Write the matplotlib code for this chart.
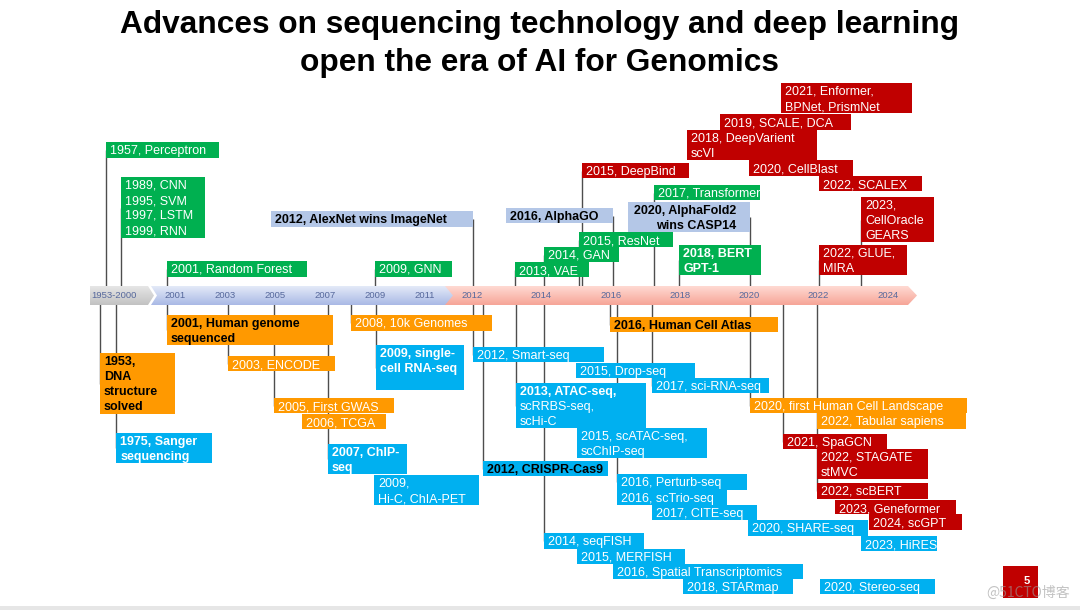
"""
Timeline: advances on sequencing technology and deep learning
=============================================================

Every event is a coloured box: AI / deep learning above the time axis,
sequencing / genomics below it. A thin leader line joins a box to its
year on the chevron axis.

Run:   python plot.py   ->  writes out.png (1080 x 610 px)
"""

import numpy as np
import matplotlib.pyplot as plt
from matplotlib.patches import Polygon, Rectangle
from matplotlib.colors import LinearSegmentedColormap

plt.rcParams["font.family"] = ["Liberation Sans", "DejaVu Sans"]


# ----------------------------------------------------------------------
# 1. THE DATA
# ----------------------------------------------------------------------
title_lines = ["Advances on sequencing technology and deep learning",
               "open the era of AI for Genomics"]

era_label = "1953-2000"
tick_years = [2001, 2003, 2005, 2007, 2009, 2011,
              2012, 2014, 2016, 2018, 2020, 2022, 2024]
tick_labels = [str(y) for y in tick_years]

years = [
    1957, 1989, 2001, 2009, 2012, 2016, 2020, 2013, 2014, 2015, 2017, 2018,
    2015, 2021, 2019, 2018, 2020, 2022, 2023, 2022,
    1953, 1975, 2001, 2003, 2005, 2006, 2007, 2008, 2009, 2009,
    2012, 2012, 2013, 2015, 2017, 2015, 2016, 2016, 2016, 2017, 2020, 2023,
    2014, 2015, 2016, 2018, 2020, 2020, 2022, 2021, 2022, 2022, 2023, 2024,
]

labels = [
    "1957, Perceptron", "1989, CNN\n1995, SVM\n1997, LSTM\n1999, RNN",
    "2001, Random Forest", "2009, GNN", "2012, AlexNet wins ImageNet",
    "2016, AlphaGO", "2020, AlphaFold2\nwins CASP14", "2013, VAE", "2014, GAN",
    "2015, ResNet", "2017, Transformer", "2018, BERT\nGPT-1",
    "2015, DeepBind", "2021, Enformer,\nBPNet, PrismNet", "2019, SCALE, DCA",
    "2018, DeepVarient\nscVI", "2020, CellBlast", "2022, SCALEX",
    "2023,\nCellOracle\nGEARS", "2022, GLUE,\nMIRA",
    "1953,\nDNA\nstructure\nsolved", "1975, Sanger\nsequencing",
    "2001, Human genome\nsequenced", "2003, ENCODE", "2005, First GWAS",
    "2006, TCGA", "2007, ChIP-\nseq", "2008, 10k Genomes",
    "2009, single-\ncell RNA-seq", "2009,\nHi-C, ChIA-PET",
    "2012, Smart-seq", "2012, CRISPR-Cas9",
    "2013, ATAC-seq,\nscRRBS-seq,\nscHi-C", "2015, Drop-seq",
    "2017, sci-RNA-seq", "2015, scATAC-seq,\nscChIP-seq",
    "2016, Human Cell Atlas", "2016, Perturb-seq", "2016, scTrio-seq",
    "2017, CITE-seq", "2020, SHARE-seq", "2023, HiRES",
    "2014, seqFISH", "2015, MERFISH", "2016, Spatial Transcriptomics",
    "2018, STARmap", "2020, Stereo-seq", "2020, first Human Cell Landscape",
    "2022, Tabular sapiens", "2021, SpaGCN", "2022, STAGATE\nstMVC",
    "2022, scBERT", "2023, Geneformer", "2024, scGPT",
]

# ml = machine learning, landmark = AI milestones, dlgen = deep learning
# for genomics, project = genome projects, tech = sequencing technology
groups = (["ml"] * 4 + ["landmark"] * 3 + ["ml"] * 5 + ["dlgen"] * 8
          + ["project", "tech"] + ["project"] * 4 + ["tech", "project"]
          + ["tech"] * 8 + ["project"] + ["tech"] * 10 + ["project"] * 2
          + ["dlgen"] * 5)


# ----------------------------------------------------------------------
# 2. LAYOUT AND STYLE (pixels; y grows downwards)
# ----------------------------------------------------------------------
# the axis scale is piecewise: 1953-2000 squeezed, wider steps after 2011
scale_years = [1953, 2000, 2001, 2011, 2012, 2024]
scale_px = [101, 127, 175, 425, 472, 888]


def year_x(year):
    return float(np.interp(year, scale_years, scale_px))


AXIS_Y = 295.5
colors = {"ml": "#00b050", "landmark": "#b4c7e7", "dlgen": "#c00000",
          "project": "#ff9900", "tech": "#00b0f0"}

# per event: (x offset from the year, top, width, height, leader, text style)
# leader: L = line at left edge, R = line at right edge, "" = none
# style:  w white, wb white bold, kb black bold, kbr right aligned, w1 first line bold
layout = [
    (3, 142, 113, 16, "L", "w"), (0, 177, 84, 61, "L", "w"),
    (-8, 261, 140, 16, "L", "w"), (0, 261, 77, 16, "L", "w"),
    (-201, 211, 202, 16, "R", "kb"), (-105, 208, 107, 15, "R", "kb"),
    (-121, 202, 122, 30, "R", "kbr"), (8, 262, 74, 15, "L", "w"),
    (3, 247, 75, 15, "L", "w"), (3, 232, 94, 15, "L", "w"),
    (9, 185, 106, 15, "L", "w"), (-1, 245, 82, 30, "L", "wb"),
    (6, 163, 107, 15, "L", "w"), (-3, 83, 131, 30, "", "w"),
    (5, 114, 131, 16, "", "w"), (7, 130, 130, 30, "", "w"),
    (0, 160, 104, 16, "", "w"), (0, 176, 103, 15, "", "w"),
    (8, 197, 73, 45, "L", "w"), (0, 245, 88, 30, "L", "w"),
    (-1, 353, 75, 61, "L", "kb"), (3, 433, 96, 30, "L", "wb"),
    (-8, 315, 166, 30, "L", "kb"), (3, 356, 107, 15, "L", "w"),
    (-1, 398, 120, 15, "L", "w"), (2, 414, 84, 15, "", "w"),
    (3, 444, 79, 30, "L", "wb"), (1, 315, 141, 16, "L", "w"),
    (1, 345, 88, 45, "L", "wb"), (-1, 475, 105, 30, "", "w"),
    (1, 347, 131, 15, "L", "w"), (11, 461, 125, 15, "L", "kb"),
    (9, 383, 130, 45, "L", "w1"), (0, 363, 119, 15, "", "w"),
    (7, 378, 117, 15, "L", "w"), (1, 428, 130, 30, "", "w"),
    (-1, 317, 168, 15, "L", "kb"), (6, 474, 130, 16, "L", "w"),
    (6, 490, 110, 15, "", "w"), (7, 505, 105, 15, "", "w"),
    (-1, 520, 120, 16, "", "w"), (8, 536, 76, 15, "", "w"),
    (3, 533, 100, 16, "L", "w"), (1, 549, 108, 15, "", "w"),
    (2, 564, 190, 15, "", "w"), (3, 579, 110, 15, "", "w"),
    (71, 579, 115, 15, "", "w"), (1, 398, 217, 15, "L", "w"),
    (-2, 413, 149, 16, "", "w"), (-1, 434, 104, 15, "L", "w"),
    (-2, 449, 111, 30, "", "w"), (-2, 483, 111, 16, "L", "w"),
    (-18, 500, 121, 14, "", "w"), (-19, 514, 93, 16, "", "w"),
]


def gradient_shape(ax, verts, top_color, bottom_color):
    """Fill a polygon with a vertical colour gradient."""
    poly = Polygon(verts, closed=True, facecolor="none", edgecolor="none")
    ax.add_patch(poly)
    cmap = LinearSegmentedColormap.from_list("grad", [top_color, bottom_color])
    xs = [v[0] for v in verts]
    ys = [v[1] for v in verts]
    img = ax.imshow(np.linspace(0, 1, 64).reshape(-1, 1), cmap=cmap,
                    aspect="auto", origin="upper", zorder=3,
                    extent=(min(xs), max(xs), max(ys), min(ys)))
    img.set_clip_path(poly)


# ----------------------------------------------------------------------
# 3. DRAW
# ----------------------------------------------------------------------
fig = plt.figure(figsize=(10.8, 6.1), dpi=100)
ax = fig.add_axes([0, 0, 1, 1])

# title
ax.text(539, 33, title_lines[0], ha="center", va="baseline",
        fontsize=22.8, weight="bold")
ax.text(539, 71, title_lines[1], ha="center", va="baseline",
        fontsize=22.8, weight="bold")

# the chevron time axis
gradient_shape(ax, [(90, 286), (148, 286), (154, AXIS_Y), (148, 305), (90, 305)],
               "#e6e6e6", "#c2c2c2")
gradient_shape(ax, [(443, 286), (908, 286), (917, AXIS_Y), (908, 305),
                    (443, 305), (449, AXIS_Y)], "#ffdad3", "#f6a597")
gradient_shape(ax, [(151, 286), (445, 286), (453, AXIS_Y), (445, 305),
                    (151, 305), (157, AXIS_Y)], "#e4eaf8", "#a9b9e5")

axis_text = "#56689c"
ax.text(0.5 * (year_x(1953) + year_x(2000)), AXIS_Y, era_label, ha="center",
        va="center", fontsize=6.8, color=axis_text, zorder=4)
for yr, lab in zip(tick_years, tick_labels):
    ax.text(year_x(yr), AXIS_Y, lab, ha="center", va="center",
            fontsize=6.8, color=axis_text, zorder=4)

# event boxes with their leader lines
for yr, lab, grp, (dx, top, w, h, link, style) in zip(years, labels, groups, layout):
    x0 = year_x(yr) + dx
    ax.add_patch(Rectangle((x0, top), w, h, facecolor=colors[grp],
                           edgecolor="none", zorder=2))
    if link:
        lx = x0 if link == "L" else x0 + w
        ax.plot([lx, lx], [top + h / 2, AXIS_Y], color="#4d4d4d", lw=1.0,
                zorder=1, solid_capstyle="butt")

    color = "black" if style.startswith("k") else "white"
    right = style.endswith("r")
    for i, line in enumerate(lab.split("\n")):
        bold = "b" in style or (style == "w1" and i == 0)
        ax.text(x0 + w - 14 if right else x0 + 4, top + 12 + 15 * i, line,
                ha="right" if right else "left", va="baseline", fontsize=9,
                color=color, weight="bold" if bold else "normal", zorder=5)

# slide footer: page number, watermark, bottom rule
ax.add_patch(Rectangle((1003, 566), 35, 32, facecolor="#c00000", zorder=2))
ax.text(1027, 581, "5", ha="center", va="center", fontsize=8,
        weight="bold", color="white", zorder=5)
ax.text(1028, 593, "@51CTO博客", ha="center", va="center", fontsize=10,
        color="#9a9a9a", alpha=0.6, zorder=6,
        family=["Noto Sans CJK SC", "DejaVu Sans"])
ax.add_patch(Rectangle((0, 606), 1080, 4, facecolor="#e6e6e6", zorder=1))

ax.set_xlim(0, 1080)
ax.set_ylim(610, 0)
ax.axis("off")

fig.savefig("out.png", dpi=100, facecolor="white")
print("Plot saved as out.png")
